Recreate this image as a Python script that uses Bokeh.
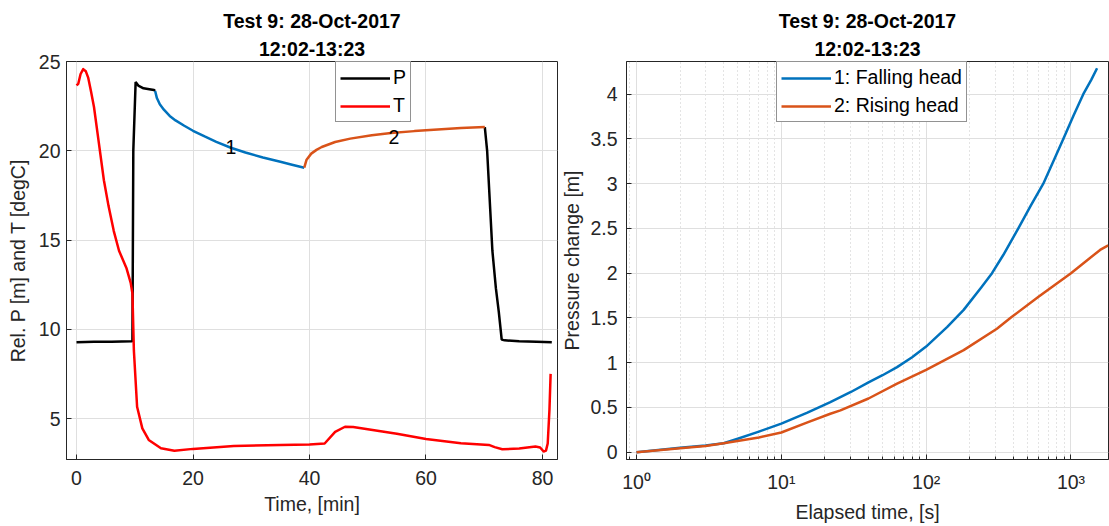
from bokeh.plotting import figure
from bokeh.models import Range1d, FixedTicker, Legend, LegendItem, Title
from bokeh.layouts import row
from bokeh.embed import file_html
from bokeh.resources import INLINE
from bokeh.core.properties import value

# ---------------- data ----------------
# Left panel: relative pressure P [m] and temperature T [degC] against time [min]
t_p_start = [0.0, 3.0, 6.0, 9.5, 9.6, 9.75, 10.15, 10.6, 11.5, 12.5, 13.3, 13.5]
p_start = [9.28, 9.30, 9.30, 9.33, 9.36, 20.0, 23.85, 23.65, 23.5, 23.45, 23.4, 23.35]

t_fall = [13.5, 13.8, 14.3, 15.0, 16.0, 17.0, 18.5, 20.0, 22.0, 24.0, 26.5,
          29.0, 32.0, 35.0, 37.0, 39.1]
p_fall = [23.35, 22.95, 22.6, 22.3, 21.95, 21.7, 21.4, 21.12, 20.8, 20.5, 20.17,
          19.9, 19.62, 19.38, 19.22, 19.05]

t_rise = [39.1, 39.5, 40.3, 41.2, 42.1, 44.4, 47.0, 50.7, 54.0, 58.0, 62.0, 66.0, 70.1]
p_rise = [19.05, 19.5, 19.84, 20.05, 20.21, 20.49, 20.68, 20.87, 20.99, 21.1,
          21.19, 21.27, 21.33]

t_p_end = [70.1, 70.5, 71.4, 72.0, 72.5, 73.0, 73.5, 76.0, 79.0, 81.6]
p_end = [21.33, 20.0, 14.4, 12.3, 10.97, 9.42, 9.38, 9.33, 9.30, 9.27]

t_temp = [0.0, 0.3, 0.7, 1.15, 1.6, 2.0, 2.5, 3.0, 3.85, 4.7, 5.5, 6.4, 7.3, 8.6,
          9.3, 9.6, 9.85, 10.4, 11.3, 12.4, 14.5, 16.8, 20.0, 27.0, 35.0, 40.0,
          42.6, 44.4, 46.1, 47.5, 50.0, 55.0, 60.0, 66.0, 70.8, 71.8, 73.1, 76.0,
          78.8, 79.6, 80.2, 80.6, 80.9, 81.2, 81.4]
temp = [23.66, 23.75, 24.3, 24.57, 24.45, 24.1, 23.3, 22.45, 20.4, 18.35, 16.9,
        15.5, 14.4, 13.4, 12.6, 12.0, 8.8, 5.66, 4.45, 3.8, 3.33, 3.2, 3.3, 3.46,
        3.52, 3.54, 3.6, 4.25, 4.54, 4.52, 4.4, 4.15, 3.85, 3.62, 3.52, 3.4, 3.28,
        3.32, 3.43, 3.38, 3.15, 3.2, 3.6, 5.5, 7.5]

segment_labels = ["1", "2"]
segment_label_t = [26.5, 54.5]
segment_label_p = [20.2, 20.75]

# Right panel: pressure change [m] against elapsed time [s]
fall_elapsed = [1, 2, 3, 4, 5, 7, 10, 15, 21.8, 30, 40, 50, 63, 80, 100, 140,
                181.6, 240, 285, 340, 433, 530, 644, 760, 885, 1040, 1216,
                1380, 1514]
fall_dp = [0.0, 0.05, 0.075, 0.10, 0.15, 0.23, 0.32, 0.44, 0.56, 0.67, 0.78,
           0.86, 0.95, 1.06, 1.18, 1.40, 1.59, 1.84, 2.0, 2.2, 2.5, 2.76, 3.0,
           3.26, 3.5, 3.76, 4.0, 4.16, 4.29]

rise_elapsed = [1, 2, 3, 4, 7, 10, 15, 21.8, 25.6, 40, 63, 100, 181.6, 308, 389,
                600, 1000, 1589, 1808]
rise_dp = [0.0, 0.045, 0.07, 0.10, 0.165, 0.22, 0.33, 0.43, 0.467, 0.60, 0.765,
           0.92, 1.14, 1.38, 1.51, 1.74, 2.0, 2.26, 2.31]

left_xticks = [0, 20, 40, 60, 80]
left_yticks = [5, 10, 15, 20, 25]
right_xticks = [1, 10, 100, 1000]
right_xminor = [0.9] + [m * d for d in (1, 10, 100) for m in range(2, 10)]
right_yticks = [0, 0.5, 1, 1.5, 2, 2.5, 3, 3.5, 4]
right_xlabels = {1: "10⁰", 10: "10¹", 100: "10²", 1000: "10³"}

title_line1 = "Test 9: 28-Oct-2017"
title_line2 = "12:02-13:23"

# ---------------- style ----------------
FONT = "Liberation Sans"
INK = "#262626"
GRID = "#dfdfdf"
MINOR = "#c8c8c8"
FS = "19.5px"
BLUE = "#0072BD"
ORANGE = "#D95319"


def style_axis(ax, ticks, minor=None, standoff=6):
    ax.ticker = FixedTicker(ticks=ticks, minor_ticks=minor or [])
    ax.major_tick_in = 5
    ax.major_tick_out = 0
    ax.minor_tick_in = 3 if minor else 0
    ax.minor_tick_out = 0
    ax.axis_line_color = INK
    ax.major_tick_line_color = INK
    ax.minor_tick_line_color = INK
    ax.major_label_text_font = FONT
    ax.major_label_text_font_size = FS
    ax.major_label_text_color = INK
    ax.major_label_standoff = standoff
    ax.axis_label_text_font = FONT
    ax.axis_label_text_font_size = FS
    ax.axis_label_text_font_style = "normal"
    ax.axis_label_text_color = INK


def add_titles(p):
    p.add_layout(Title(text=title_line2, align="center", text_font=FONT,
                       text_font_size=FS, text_font_style="bold",
                       text_color="black", standoff=4), "above")
    p.add_layout(Title(text=title_line1, align="center", text_font=FONT,
                       text_font_size=FS, text_font_style="bold",
                       text_color="black", standoff=4), "above")


def make_legend(items, loc):
    return Legend(items=items, location=loc, margin=0, padding=4, spacing=5,
                  glyph_width=50, glyph_height=20, label_standoff=3,
                  label_width=10, label_height=20,
                  label_text_font=FONT, label_text_font_size=FS,
                  label_text_color="black", border_line_color=INK,
                  border_line_width=1, background_fill_color="white",
                  background_fill_alpha=1.0)


# ---------------- left panel ----------------
p1 = figure(width=558, height=526, output_backend="svg", toolbar_location=None,
            x_range=Range1d(-1.72, 82.58), y_range=Range1d(2.705, 25.0),
            min_border_left=66, min_border_right=1, min_border_top=61,
            min_border_bottom=67, title=None)
p1.outline_line_color = INK
p1.background_fill_color = "white"
p1.border_fill_color = "white"
style_axis(p1.xaxis[0], left_xticks, standoff=11)
style_axis(p1.yaxis[0], left_yticks, standoff=6)
p1.xaxis[0].axis_label = "Time, [min]"
p1.xaxis[0].axis_label_standoff = 5
p1.yaxis[0].axis_label = "Rel. P [m] and T [degC]"
p1.yaxis[0].axis_label_standoff = 7
for g in (p1.xgrid[0], p1.ygrid[0]):
    g.grid_line_color = GRID
    g.grid_line_width = 1
add_titles(p1)

r_p1 = p1.line(t_p_start, p_start, line_color="black", line_width=2.5)
p1.line(t_p_end, p_end, line_color="black", line_width=2.5)
r_t = p1.line(t_temp, temp, line_color="#FF0000", line_width=2.5,
              line_join="round")
p1.line(t_fall, p_fall, line_color=BLUE, line_width=2.5)
p1.line(t_rise, p_rise, line_color=ORANGE, line_width=2.5)
p1.text(x=segment_label_t, y=segment_label_p, text=segment_labels,
        text_font=value(FONT), text_font_size=FS, text_color="black",
        text_align="center", text_baseline="middle")

p1.add_layout(make_legend([LegendItem(label="P", renderers=[r_p1]),
                           LegendItem(label="T", renderers=[r_t])],
                          (269, 337)))

# ---------------- right panel ----------------
p2 = figure(width=551, height=526, output_backend="svg", toolbar_location=None,
            x_axis_type="log", x_range=Range1d(0.853, 1816),
            y_range=Range1d(-0.0816, 4.365),
            min_border_left=68, min_border_right=1, min_border_top=61,
            min_border_bottom=67, title=None)
p2.outline_line_color = INK
p2.background_fill_color = "white"
p2.border_fill_color = "white"
style_axis(p2.xaxis[0], right_xticks, right_xminor, standoff=11)
p2.xaxis[0].major_label_overrides = right_xlabels
style_axis(p2.yaxis[0], right_yticks, standoff=9)
p2.xaxis[0].axis_label = "Elapsed time, [s]"
p2.xaxis[0].axis_label_standoff = 5
p2.yaxis[0].axis_label = "Pressure change [m]"
p2.yaxis[0].axis_label_standoff = 4
p2.xgrid[0].grid_line_color = GRID
p2.ygrid[0].grid_line_color = GRID
p2.xgrid[0].minor_grid_line_color = MINOR
p2.xgrid[0].minor_grid_line_dash = "1 3"
add_titles(p2)

r_fall = p2.line(fall_elapsed, fall_dp, line_color=BLUE, line_width=2.5,
                 line_join="round")
r_rise = p2.line(rise_elapsed, rise_dp, line_color=ORANGE, line_width=2.5,
                 line_join="round")

p2.add_layout(make_legend([LegendItem(label="1: Falling head", renderers=[r_fall]),
                           LegendItem(label="2: Rising head", renderers=[r_rise])],
                          (150, 337)))

layout = row(p1, p2, spacing=0)
open("out.html", "w").write(file_html(layout, INLINE))
